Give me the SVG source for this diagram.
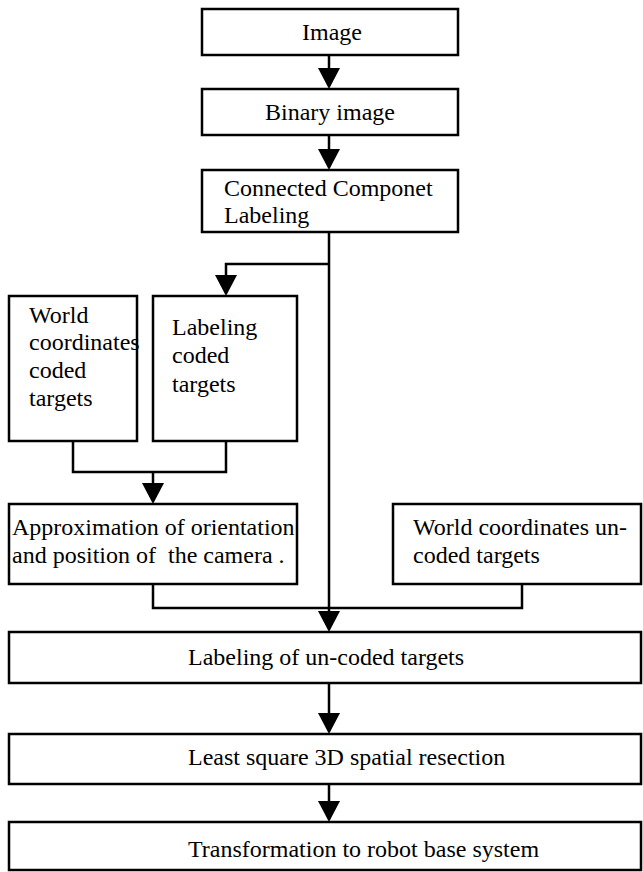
<svg xmlns="http://www.w3.org/2000/svg" width="643" height="872" viewBox="0 0 643 872">
<style>
.box{fill:#fff;stroke:#000;stroke-width:2.5}
.t{font-size:24px;fill:#000}
.c{text-anchor:middle}
.ln{fill:none;stroke:#000;stroke-width:2.5}
.ar{fill:none;stroke:#000;stroke-width:2.5;marker-end:url(#ah)}
</style>
<defs>
<marker id="ah" markerUnits="userSpaceOnUse" markerWidth="22" markerHeight="22" viewBox="0 0 21 22" refX="18" refY="11" orient="auto">
<path d="M0,0 L21,11 L0,22 Z" fill="#000"/>
</marker>
</defs>
<g font-family="Liberation Serif, Tinos, DejaVu Serif, serif">
<g id="n-image"><rect class="box" x="202" y="9" width="256" height="46"/><text class="t c" x="332" y="40">Image</text></g>
<g id="n-binary"><rect class="box" x="202" y="89" width="256" height="46"/><text class="t c" x="330" y="120">Binary image</text></g>
<g id="n-ccl"><rect class="box" x="202" y="170" width="256" height="62"/><text class="t" x="224" y="196">Connected Componet</text><text class="t" x="224" y="223">Labeling</text></g>
<g id="n-wcc"><rect class="box" x="9" y="296" width="128" height="145"/><text class="t" x="29" y="323">World</text><text class="t" x="29" y="350">coordinates</text><text class="t" x="29" y="378">coded</text><text class="t" x="29" y="406">targets</text></g>
<g id="n-lct"><rect class="box" x="153" y="296" width="144" height="145"/><text class="t" x="172" y="335">Labeling</text><text class="t" x="172" y="363">coded</text><text class="t" x="172" y="392">targets</text></g>
<g id="n-approx"><rect class="box" x="9" y="504" width="288" height="80"/><text class="t" x="12" y="535">Approximation of orientation</text><text class="t" x="12" y="563" xml:space="preserve">and position of  the camera .</text></g>
<g id="n-wcu"><rect class="box" x="393" y="504" width="248" height="80"/><text class="t" x="413" y="535">World coordinates un-</text><text class="t" x="413" y="563">coded targets</text></g>
<g id="n-luct"><rect class="box" x="9" y="632" width="632" height="51"/><text class="t" x="188" y="665">Labeling of un-coded targets</text></g>
<g id="n-lsq"><rect class="box" x="9" y="734" width="632" height="50"/><text class="t" x="188" y="765">Least square 3D spatial resection</text></g>
<g id="n-trans"><rect class="box" x="9" y="822" width="632" height="48"/><text class="t" x="188" y="857">Transformation to robot base system</text></g>
</g>
<g id="connectors">
<path class="ar" d="M329,55 V86"/>
<path class="ar" d="M329,135 V167"/>
<path class="ar" d="M329,232 V629"/>
<path class="ar" d="M329,264 H226 V293"/>
<path class="ln" d="M73,441 V472 H226 V441"/>
<path class="ar" d="M153,472 V501"/>
<path class="ln" d="M153,584 V608 H522 V584"/>
<path class="ar" d="M329,683 V731"/>
<path class="ar" d="M329,784 V819"/>
</g>
</svg>
